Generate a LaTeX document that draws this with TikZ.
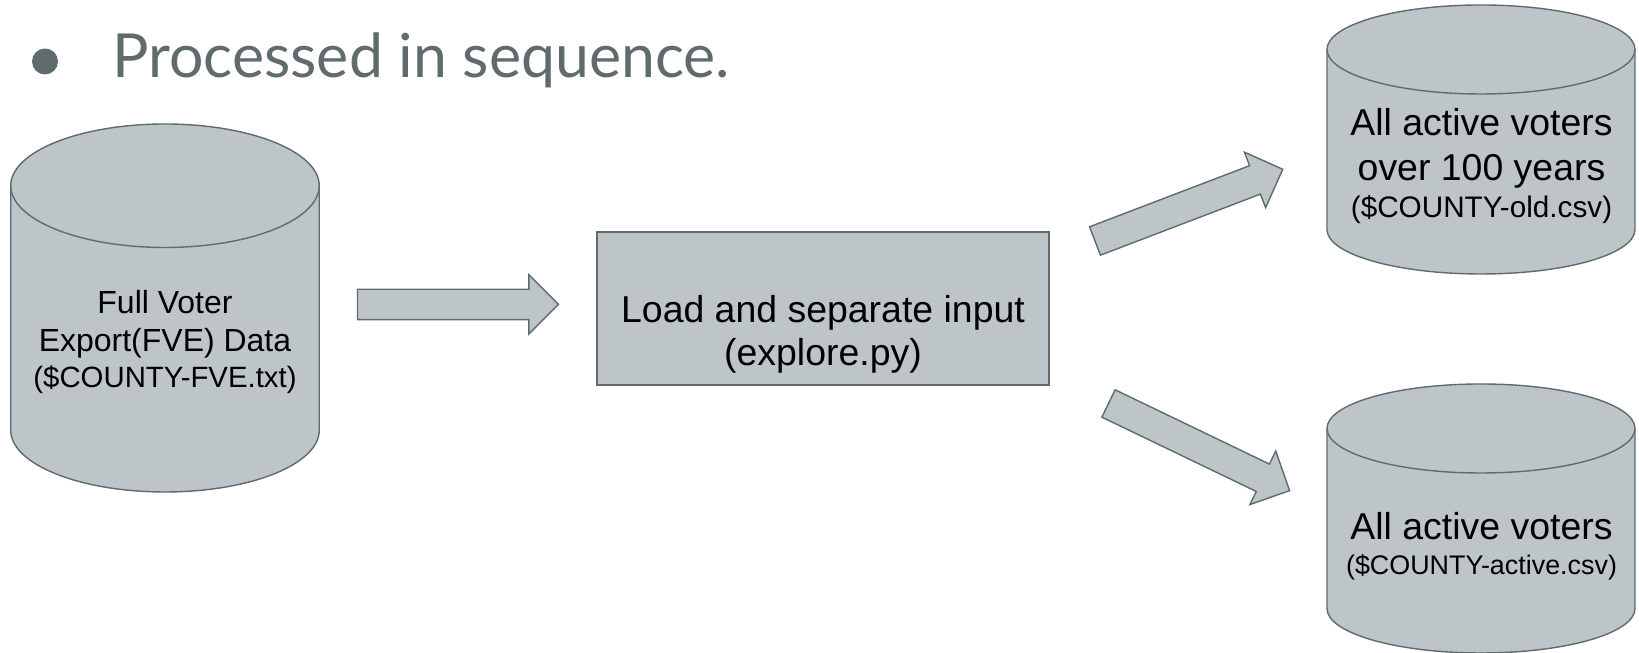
\documentclass[tikz,border=0pt]{standalone}
\usepackage{fontspec}
\setmainfont{Liberation Sans}
\newfontfamily\titlefont{Lato}
\usetikzlibrary{shapes.arrows}
\definecolor{boxfill}{HTML}{BDC5C9}
\definecolor{boxline}{HTML}{5F6B6D}
\tikzset{
	store/.style={draw=boxline, fill=boxfill, line width=0.8pt},
	stage/.style={draw=boxline, fill=boxfill, line width=0.8pt, rectangle, inner sep=0pt, minimum width=9.04cm, minimum height=3.06cm},
	flow/.style={draw=boxline, fill=boxfill, line width=0.8pt, shape=single arrow, inner xsep=0pt, inner ysep=0.29cm, outer sep=0pt, minimum height=4.02cm, minimum width=1.16cm, single arrow head extend=0.29cm, anchor=tail},
	note/.style={align=center, text=black}
}
%center x, center y, half width, half height, cap radius
\newcommand{\drawstore}[5]{
	\draw[store] (#1-#3,#2+#4-#5)--(#1-#3,#2-#4+#5) arc (180:360:#3 and #5)--(#1+#3,#2+#4-#5) arc (0:180:#3 and #5)--cycle;
	\draw[store, fill=none] (#1-#3,#2+#4-#5) arc (180:360:#3 and #5);
}
\begin{document}
\begin{tikzpicture}
	\useasboundingbox (0,0) rectangle (32.78,13.06);
	
	%heading
	\node[circle, fill=boxline, minimum size=0.52cm, inner sep=0pt] (dot) at (0.9,11.83) {};
	\node[anchor=base west, inner sep=0pt, text=boxline, font=\titlefont\fontsize{34.6}{40}\selectfont] (heading) at (2.24,11.5) {Processed in sequence.};
	
	%stores
	\drawstore{3.30}{6.90}{3.085}{3.68}{1.235}
	\drawstore{29.62}{10.27}{3.08}{2.69}{0.89}
	\drawstore{29.62}{2.69}{3.08}{2.69}{0.89}
	
	%stage
	\node[stage] (load) at (16.46,6.89) {};
	
	%labels
	\node[note] (fvetext) at (3.30,6.22) {\fontsize{18.2}{21.5}\selectfont Full Voter\\[7pt]\fontsize{18.2}{21.5}\selectfont Export(FVE) Data\\[3.7pt]\fontsize{16.7}{20}\selectfont (\$COUNTY-FVE.txt)};
	\node[note] (loadtext) at (16.46,6.37) {\fontsize{21.3}{25}\selectfont Load and separate input\\[3.5pt]\fontsize{21.3}{25}\selectfont (explore.py)};
	\node[note] (oldtext) at (29.63,9.74) {\fontsize{21.3}{25}\selectfont All active voters\\[9.5pt]\fontsize{21.3}{25}\selectfont over 100 years\\[2.9pt]\fontsize{16.9}{21}\selectfont (\$COUNTY-old.csv)};
	\node[note] (activetext) at (29.63,2.135) {\fontsize{21.3}{25}\selectfont All active voters\\[7.5pt]\fontsize{15.3}{21}\selectfont (\$COUNTY-active.csv)};
	
	%arrows
	\node[flow] (fveflow) at (7.15,6.97) {};
	\node[flow, rotate=20.9] (oldflow) at (21.90,8.24) {};
	\node[flow, rotate=-25.7] (activeflow) at (22.17,4.99) {};
\end{tikzpicture}
\end{document}
